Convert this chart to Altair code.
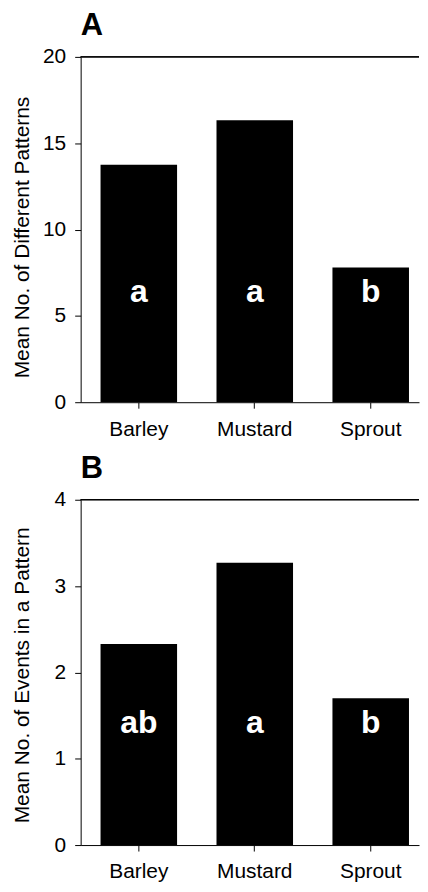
import altair as alt
import pandas as pd

categories = ["Barley", "Mustard", "Sprout"]
patterns_mean = [13.75, 16.33, 7.8]
events_mean = [2.33, 3.27, 1.7]
letters_a = ["a", "a", "b"]
letters_b = ["ab", "a", "b"]
ticks_a = [0, 5, 10, 15, 20]
ticks_b = [0, 1, 2, 3, 4]

FONT = "Liberation Sans"


def panel(title, values, letters, ymax, yticks, ytitle, letter_y, tpad, title_y):
    df = pd.DataFrame({"cat": categories, "val": values, "lab": letters})
    xscale = alt.Scale(paddingInner=0.34, paddingOuter=0.129, align=0.665)
    x = alt.X(
        "cat:N",
        sort=categories,
        title=None,
        scale=xscale,
        axis=alt.Axis(labelAngle=0, tickSize=6, labelPadding=10, domainColor="black",
                      tickColor="black", labelColor="black", labelFontSize=21, labelFont=FONT),
    )
    y = alt.Y(
        "val:Q",
        scale=alt.Scale(domain=[0, ymax], nice=False, zero=True),
        axis=alt.Axis(values=yticks, format="d", title=ytitle, grid=False, tickSize=6,
                      labelPadding=9, domainColor="black", tickColor="black",
                      labelColor="black", labelFontSize=21, labelFont=FONT,
                      titleFontSize=21, titleFont=FONT, titleFontWeight="normal",
                      titleColor="black", titlePadding=tpad, titleY=title_y),
    )
    bars = alt.Chart(df).mark_bar(color="black").encode(x=x, y=y)
    text = alt.Chart(df).mark_text(
        color="white", fontWeight="bold", fontSize=32, baseline="alphabetic", font=FONT
    ).encode(x=alt.X("cat:N", sort=categories), y=alt.datum(letter_y), text="lab:N")
    top = alt.Chart(df).mark_rule(color="black", strokeWidth=1).encode(y=alt.datum(ymax))
    return alt.layer(bars, text, top).properties(
        width=340,
        height=347,
        title=alt.TitleParams(title, anchor="start", frame="group", fontSize=31,
                              fontWeight="bold", font=FONT, color="black", offset=4),
    )


pa = panel("A", patterns_mean, letters_a, 20, ticks_a, "Mean No. of Different Patterns", 5.8, 10, 181)
pb = panel("B", events_mean, letters_b, 4, ticks_b, "Mean No. of Events in a Pattern", 1.3, 22, 176)

chart = alt.vconcat(pa, pb, spacing=14).properties(
    padding={"left": 3, "top": 0, "right": 0, "bottom": 0}
).configure_view(stroke=None)

chart.save("out.html", embed_options={"renderer": "svg", "actions": False})
